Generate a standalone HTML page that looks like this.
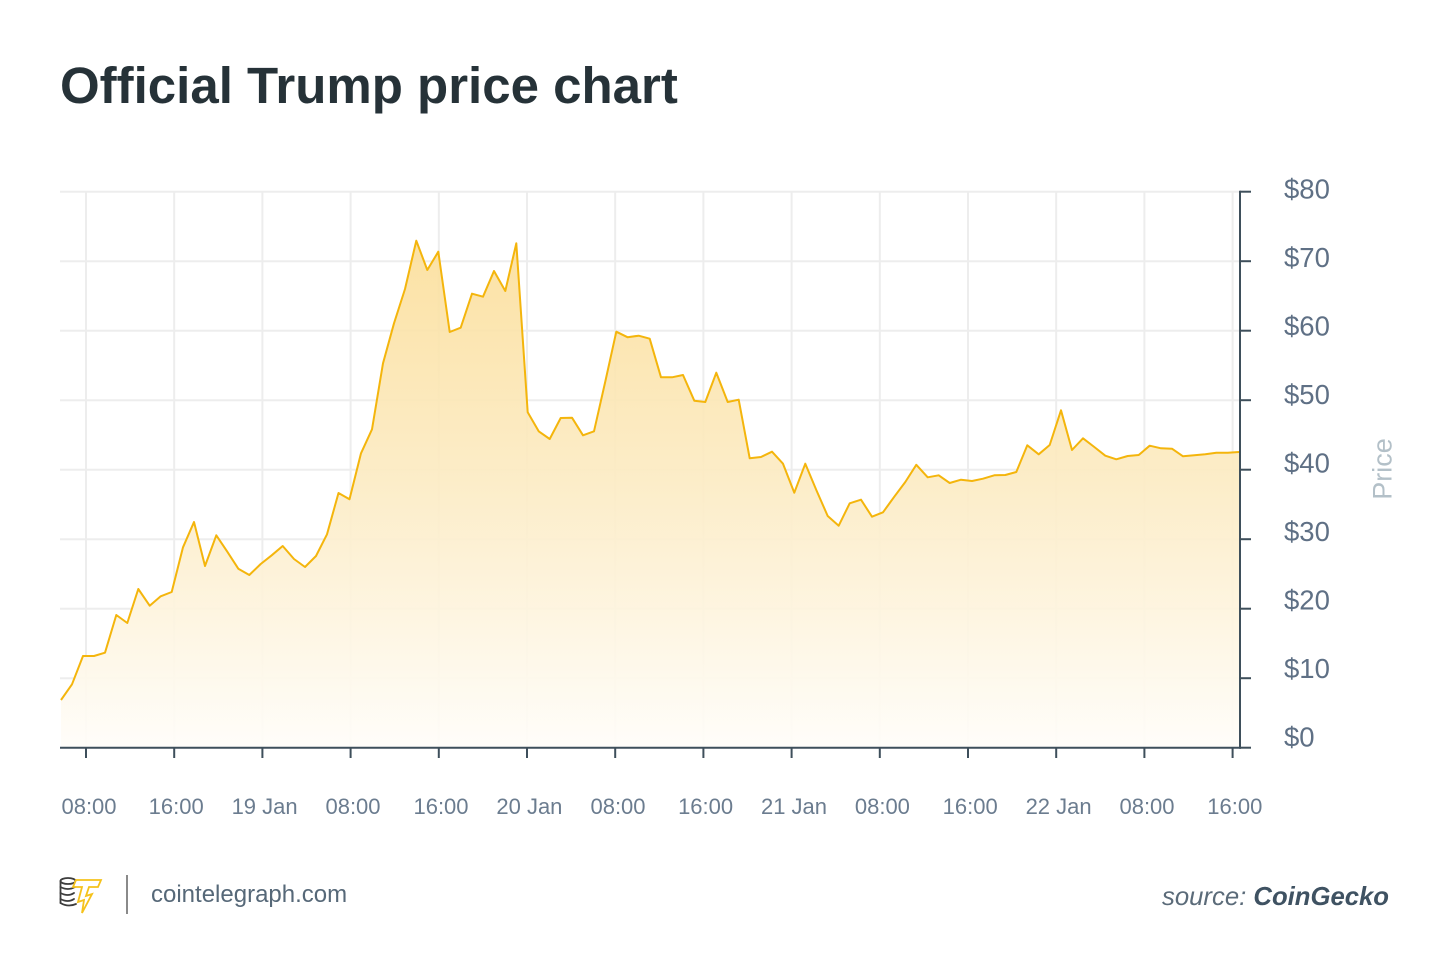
<!DOCTYPE html>
<html>
<head>
<meta charset="utf-8">
<style>
html,body{margin:0;padding:0;background:#fff;}
body{width:1450px;height:975px;overflow:hidden;position:relative;font-family:"Liberation Sans",sans-serif;}
svg{position:absolute;left:0;top:0;}
</style>
</head>
<body>
<svg width="1450" height="975" viewBox="0 0 1450 975" xmlns="http://www.w3.org/2000/svg">
  <defs>
    <linearGradient id="fillg" gradientUnits="userSpaceOnUse" x1="0" y1="240" x2="0" y2="747">
      <stop offset="0" stop-color="#fbdf9c"/>
      <stop offset="0.5" stop-color="#fcecc6"/>
      <stop offset="1" stop-color="#fffdf9"/>
    </linearGradient>
  </defs>

  <!-- Title -->
  <text x="60" y="103" font-family="Liberation Sans, sans-serif" font-weight="bold" font-size="51" fill="#263238">Official Trump price chart</text>

  <!-- horizontal gridlines -->
  <g stroke="#ededed" stroke-width="2">
    <line x1="60" y1="191.7" x2="1240" y2="191.7"/>
    <line x1="60" y1="261.2" x2="1240" y2="261.2"/>
    <line x1="60" y1="330.7" x2="1240" y2="330.7"/>
    <line x1="60" y1="400.2" x2="1240" y2="400.2"/>
    <line x1="60" y1="469.7" x2="1240" y2="469.7"/>
    <line x1="60" y1="539.2" x2="1240" y2="539.2"/>
    <line x1="60" y1="608.7" x2="1240" y2="608.7"/>
    <line x1="60" y1="678.2" x2="1240" y2="678.2"/>
  </g>
  <!-- vertical gridlines -->
  <g stroke="#ededed" stroke-width="2">
    <line x1="86" y1="191" x2="86" y2="747"/>
    <line x1="174.2" y1="191" x2="174.2" y2="747"/>
    <line x1="262.4" y1="191" x2="262.4" y2="747"/>
    <line x1="350.6" y1="191" x2="350.6" y2="747"/>
    <line x1="438.8" y1="191" x2="438.8" y2="747"/>
    <line x1="527" y1="191" x2="527" y2="747"/>
    <line x1="615.2" y1="191" x2="615.2" y2="747"/>
    <line x1="703.4" y1="191" x2="703.4" y2="747"/>
    <line x1="791.6" y1="191" x2="791.6" y2="747"/>
    <line x1="879.8" y1="191" x2="879.8" y2="747"/>
    <line x1="968" y1="191" x2="968" y2="747"/>
    <line x1="1056.2" y1="191" x2="1056.2" y2="747"/>
    <line x1="1144.4" y1="191" x2="1144.4" y2="747"/>
    <line x1="1232.6" y1="191" x2="1232.6" y2="747"/>
  </g>

  <!-- area -->
  <path fill="url(#fillg)" fill-opacity="0.92" d="M61,747 L61,700 L72,684.3 L83,656 L94,656 L105,652.7 L116.3,615 L127.3,623 L138.3,589 L149.7,605.7 L160.7,596.3 L171.7,592 L183,547.3 L194,522 L205,566 L216.3,535.3 L227.3,551.7 L238.3,568.7 L249.3,575 L260.7,564 L271.7,555.3 L282.7,546 L294,559 L305,567 L316,556 L327,534.3 L338.5,493 L349.5,499.3 L361,453.3 L372,429.3 L383,363.3 L394,323.3 L405,289 L416.3,240.7 L427.3,270 L438.3,251.7 L449.7,332 L460.7,327.7 L472,293.7 L483,296.7 L494,271 L505.3,291 L516.3,243.3 L527.7,412.3 L538.7,431.3 L549.7,439 L560.7,418 L572,417.7 L583,435.3 L594,431.3 L605.3,381.5 L616.3,331.7 L627.5,337.2 L638.7,335.7 L649.7,338.7 L661,377.3 L672,377.3 L683,375 L694.3,400.7 L705.3,402 L716.3,372.7 L727.7,402 L738.7,399.7 L749.7,458.3 L761,457 L772,451.7 L783,463.7 L794.3,492.7 L805.3,463.7 L816.3,490 L827.7,516 L838.7,525.7 L849.7,503.3 L861,499.7 L872,516.7 L883,512.3 L894.3,496.7 L905.3,482 L916.3,464.8 L927.7,477.3 L938.7,475.3 L949.7,483 L961,479.7 L972,481 L983,478.7 L994.3,475.3 L1005.3,475 L1016.3,472 L1027.3,445.3 L1038.7,454.3 L1049.7,445 L1061,410.3 L1072,450 L1083,438.3 L1094.3,447 L1105.3,455.7 L1116.3,459.3 L1127.7,456 L1138.7,455 L1149.7,445.7 L1161,448.3 L1172,448.7 L1183,456.3 L1194.3,455.3 L1205.3,454.3 L1216.3,452.7 L1227.7,452.7 L1239,452 L1239,747 Z"/>

  <!-- line -->
  <polyline fill="none" stroke="#f4b50c" stroke-width="2" stroke-linejoin="round" points="61,700 72,684.3 83,656 94,656 105,652.7 116.3,615 127.3,623 138.3,589 149.7,605.7 160.7,596.3 171.7,592 183,547.3 194,522 205,566 216.3,535.3 227.3,551.7 238.3,568.7 249.3,575 260.7,564 271.7,555.3 282.7,546 294,559 305,567 316,556 327,534.3 338.5,493 349.5,499.3 361,453.3 372,429.3 383,363.3 394,323.3 405,289 416.3,240.7 427.3,270 438.3,251.7 449.7,332 460.7,327.7 472,293.7 483,296.7 494,271 505.3,291 516.3,243.3 527.7,412.3 538.7,431.3 549.7,439 560.7,418 572,417.7 583,435.3 594,431.3 605.3,381.5 616.3,331.7 627.5,337.2 638.7,335.7 649.7,338.7 661,377.3 672,377.3 683,375 694.3,400.7 705.3,402 716.3,372.7 727.7,402 738.7,399.7 749.7,458.3 761,457 772,451.7 783,463.7 794.3,492.7 805.3,463.7 816.3,490 827.7,516 838.7,525.7 849.7,503.3 861,499.7 872,516.7 883,512.3 894.3,496.7 905.3,482 916.3,464.8 927.7,477.3 938.7,475.3 949.7,483 961,479.7 972,481 983,478.7 994.3,475.3 1005.3,475 1016.3,472 1027.3,445.3 1038.7,454.3 1049.7,445 1061,410.3 1072,450 1083,438.3 1094.3,447 1105.3,455.7 1116.3,459.3 1127.7,456 1138.7,455 1149.7,445.7 1161,448.3 1172,448.7 1183,456.3 1194.3,455.3 1205.3,454.3 1216.3,452.7 1227.7,452.7 1239,452"/>

  <!-- axes -->
  <g stroke="#3e4f5b" stroke-width="2">
    <line x1="60" y1="747.7" x2="1241" y2="747.7"/>
    <line x1="1240" y1="190.7" x2="1240" y2="748.7"/>
    <!-- y ticks -->
    <line x1="1240" y1="191.7" x2="1251" y2="191.7"/>
    <line x1="1240" y1="261.2" x2="1251" y2="261.2"/>
    <line x1="1240" y1="330.7" x2="1251" y2="330.7"/>
    <line x1="1240" y1="400.2" x2="1251" y2="400.2"/>
    <line x1="1240" y1="469.7" x2="1251" y2="469.7"/>
    <line x1="1240" y1="539.2" x2="1251" y2="539.2"/>
    <line x1="1240" y1="608.7" x2="1251" y2="608.7"/>
    <line x1="1240" y1="678.2" x2="1251" y2="678.2"/>
    <line x1="1240" y1="747.7" x2="1251" y2="747.7"/>
    <!-- x ticks -->
    <line x1="86" y1="747" x2="86" y2="758"/>
    <line x1="174.2" y1="747" x2="174.2" y2="758"/>
    <line x1="262.4" y1="747" x2="262.4" y2="758"/>
    <line x1="350.6" y1="747" x2="350.6" y2="758"/>
    <line x1="438.8" y1="747" x2="438.8" y2="758"/>
    <line x1="527" y1="747" x2="527" y2="758"/>
    <line x1="615.2" y1="747" x2="615.2" y2="758"/>
    <line x1="703.4" y1="747" x2="703.4" y2="758"/>
    <line x1="791.6" y1="747" x2="791.6" y2="758"/>
    <line x1="879.8" y1="747" x2="879.8" y2="758"/>
    <line x1="968" y1="747" x2="968" y2="758"/>
    <line x1="1056.2" y1="747" x2="1056.2" y2="758"/>
    <line x1="1144.4" y1="747" x2="1144.4" y2="758"/>
    <line x1="1232.6" y1="747" x2="1232.6" y2="758"/>
  </g>

  <!-- y labels -->
  <g font-family="Liberation Sans, sans-serif" font-size="27.5" fill="#5f7085">
    <text x="1284" y="198.3">$80</text>
    <text x="1284" y="266.8">$70</text>
    <text x="1284" y="335.3">$60</text>
    <text x="1284" y="403.8">$50</text>
    <text x="1284" y="472.3">$40</text>
    <text x="1284" y="540.8">$30</text>
    <text x="1284" y="609.3">$20</text>
    <text x="1284" y="677.8">$10</text>
    <text x="1284" y="746.3">$0</text>
  </g>
  <text transform="translate(1391.5,469) rotate(-90)" text-anchor="middle" font-family="Liberation Sans, sans-serif" font-size="27" fill="#b3c0c8">Price</text>

  <!-- x labels -->
  <g font-family="Liberation Sans, sans-serif" font-size="22" fill="#6b7c8f" text-anchor="middle">
    <text x="89" y="814">08:00</text>
    <text x="176.2" y="814">16:00</text>
    <text x="264.6" y="814">19 Jan</text>
    <text x="353" y="814">08:00</text>
    <text x="441" y="814">16:00</text>
    <text x="529.4" y="814">20 Jan</text>
    <text x="618" y="814">08:00</text>
    <text x="705.6" y="814">16:00</text>
    <text x="794" y="814">21 Jan</text>
    <text x="882.4" y="814">08:00</text>
    <text x="970.2" y="814">16:00</text>
    <text x="1058.6" y="814">22 Jan</text>
    <text x="1147" y="814">08:00</text>
    <text x="1234.8" y="814">16:00</text>
  </g>

  <!-- footer logo -->
  <g fill="none" stroke="#3d3d3d" stroke-width="1.8" stroke-linecap="round">
    <ellipse cx="68" cy="881" rx="7.5" ry="3"/>
    <path d="M60.5,881 L60.5,903 M75.5,881 L75.5,884"/>
    <path d="M60.5,887 Q68,891 75,887"/>
    <path d="M60.5,893 Q68,897 74,893"/>
    <path d="M60.5,899 Q68,903 74,899"/>
    <path d="M60.5,903 Q68,907.5 76,904"/>
  </g>
  <path fill="#fff" stroke="#f5c21b" stroke-width="1.8" stroke-linejoin="miter" d="M76,880 L101,880 L98,887 L89,887 L86,896 L92,894 L82,913 L84,900 L78,902 L82,887 L73,887 Z"/>
  <line x1="127" y1="875" x2="127" y2="914" stroke="#8a8a8a" stroke-width="2"/>
  <text x="151" y="902" font-family="Liberation Sans, sans-serif" font-size="24" fill="#566878">cointelegraph.com</text>

  <text x="1389" y="905" text-anchor="end" font-family="Liberation Sans, sans-serif" font-size="25.7" font-style="italic"><tspan fill="#5b6b79">source: </tspan><tspan fill="#3f5262" font-weight="bold">CoinGecko</tspan></text>
</svg>
</body>
</html>
